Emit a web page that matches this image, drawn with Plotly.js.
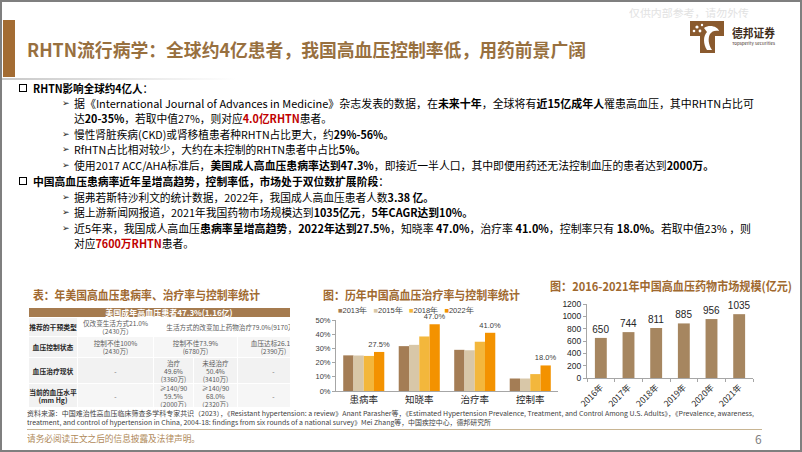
<!DOCTYPE html>
<html><head><meta charset="utf-8">
<script src="https://cdn.plot.ly/plotly-3.0.1.min.js"></script>
<style>
html,body{margin:0;padding:0;background:#fff;}
#slide{position:relative;width:802px;height:452px;overflow:hidden;background:#fff;font-family:'Noto Sans CJK SC','Noto Sans',sans-serif;color:#000;}
.frame{position:absolute;left:0;top:0;width:798px;height:448px;border:2px solid #7f7f7f;}
.t{position:absolute;white-space:nowrap;line-height:14px;height:14px;transform-origin:0 50%;}
.body{font-size:11px;}
.t b{font-weight:700;}
.r{color:#c00000;}
.box{position:absolute;width:6px;height:6px;border:1.4px solid #000;}
.arr{position:absolute;font-family:'DejaVu Sans';font-size:9px;line-height:14px;color:#222;}
.ct{font-size:12px;font-weight:700;color:#a0692f;}
#tbl{position:absolute;left:28px;top:307px;width:262px;height:100px;overflow:hidden;}
#tbl table{border-collapse:collapse;table-layout:fixed;width:281px;font-size:6.6px;line-height:8px;color:#5a5a5a;}
#tbl td{border:1px solid #fff;text-align:center;padding:0;overflow:hidden;white-space:nowrap;}
#tbl td.lab{font-weight:700;color:#262626;background:#f2f2f2;font-size:6.8px;}
#tbl td.hd{background:#a57b4f;color:#fff;font-weight:700;font-size:8px;}
</style></head>
<body>
<div id="slide">
  <div class="frame"></div>
  <div style="position:absolute;left:3px;top:20px;width:12px;height:57px;background:#a36c33;"></div>
  <div style="position:absolute;left:2px;top:78px;width:235px;height:2px;background:linear-gradient(to right,#c8c8c8,#ffffff);"></div>
  <div class="t" data-w="559" style="left:27px;top:38px;height:22px;line-height:22px;font-size:18px;font-weight:700;color:#98703f;">RHTN流行病学：全球约4亿患者，我国高血压控制率低，用药前景广阔</div>
  <div class="t" data-w="120" style="left:629px;top:6px;font-size:10px;color:#e2e2e2;">仅供内部参考，请勿外传</div>
  <svg style="position:absolute;left:688px;top:19px;" width="38" height="36" viewBox="0 0 38 36">
    <path d="M2 2 H36 V17 H27 V34 H12 V17 H2 Z" fill="#8a5a2e"/>
    <circle cx="9" cy="8" r="1.6" fill="#fff"/><circle cx="6" cy="12" r="1.3" fill="#fff"/>
    <circle cx="14" cy="6" r="1.2" fill="#fff"/><circle cx="12" cy="12" r="1.4" fill="#fff"/>
    <path d="M16 9 C22 5 30 8 31 12 C27 11 24 12 22 15 C20 19 20 25 24 31 L19 31 C15 25 15 17 19 13 Z" fill="#fff"/>
  </svg>
  <div class="t" data-w="43" style="left:732px;top:26px;height:13px;line-height:13px;font-size:12px;font-weight:700;color:#3d2b1a;">德邦证券</div>
  <div class="t" data-w="43" style="left:732px;top:40px;height:6px;line-height:6px;font-size:4px;color:#3d2b1a;">Topsperity Securities</div>

  <div class="box" style="left:19px;top:84px;"></div>
  <div class="t body" data-w="120" style="left:33px;top:81px;"><b>RHTN影响全球约4亿人</b>：</div>
  <div class="arr" style="left:62px;top:96px;">➢</div>
  <div class="t body" data-w="680" style="left:74px;top:96px;">据《International Journal of Advances in Medicine》杂志发表的数据，在<b>未来十年</b>，全球将有<b>近15亿成年人</b>罹患高血压，其中RHTN占比可</div>
  <div class="t body" data-w="258" style="left:74px;top:111px;">达<b>20-35%</b>，若取中值27%，则对应<b class="r">4.0亿RHTN</b>患者。</div>
  <div class="arr" style="left:62px;top:127px;">➢</div>
  <div class="t body" data-w="320" style="left:74px;top:127px;">慢性肾脏疾病(CKD)或肾移植患者种RHTN占比更大，约<b>29%-56%。</b></div>
  <div class="arr" style="left:62px;top:142px;">➢</div>
  <div class="t body" data-w="292" style="left:74px;top:142px;">RfHTN占比相对较少，大约在未控制的RHTN患者中占比<b>5%。</b></div>
  <div class="arr" style="left:62px;top:158px;">➢</div>
  <div class="t body" data-w="640" style="left:74px;top:158px;">使用2017 ACC/AHA标准后，<b>美国成人高血压患病率达到47.3%</b>，即接近一半人口，其中即便用药还无法控制血压的患者达到<b>2000万。</b></div>
  <div class="box" style="left:19px;top:177px;"></div>
  <div class="t body" data-w="356" style="left:33px;top:174px;"><b>中国高血压患病率近年呈增高趋势，控制率低，市场处于双位数扩展阶段</b>：</div>
  <div class="arr" style="left:62px;top:190px;">➢</div>
  <div class="t body" data-w="360" style="left:74px;top:190px;">据弗若斯特沙利文的统计数据，2022年，我国成人高血压患者人数<b>3.38 亿。</b></div>
  <div class="arr" style="left:62px;top:205px;">➢</div>
  <div class="t body" data-w="399" style="left:74px;top:205px;">据上游新闻网报道，2021年我国药物市场规模达到<b>1035亿元</b>，<b>5年CAGR达到10%。</b></div>
  <div class="arr" style="left:62px;top:221px;">➢</div>
  <div class="t body" data-w="677" style="left:74px;top:221px;">近5年来，我国成人高血压<b>患病率呈增高趋势</b>，<b>2022年达到27.5%</b>，知晓率 <b>47.0%</b>，治疗率 <b>41.0%</b>，控制率只有 <b>18.0%。</b>若取中值23% ，则</div>
  <div class="t body" data-w="120" style="left:74px;top:236px;">对应<b class="r">7600万RHTN</b>患者。</div>

  <div class="t ct" data-w="227" style="left:33px;top:288px;">表：年美国高血压患病率、治疗率与控制率统计</div>
  <div class="t ct" data-w="197" style="left:323px;top:288px;">图：历年中国高血压治疗率与控制率统计</div>
  <div class="t ct" data-w="242" style="left:550px;top:279px;">图：2016-2021年中国高血压药物市场规模(亿元)</div>

  <div id="tbl"></div>
  <div id="rate" style="position:absolute;left:300px;top:300px;width:262px;height:114px;"></div>
  <div id="market" style="position:absolute;left:545px;top:295px;width:220px;height:114px;"></div>

  <div class="t" data-w="727" style="left:27px;top:409px;height:8px;line-height:8px;font-size:6.5px;color:#404040;">资料来源：中国难治性高血压临床筛查多学科专家共识（2023），《Resistant hypertension: a review》Anant Parasher等，《Estimated Hypertension Prevalence, Treatment, and Control Among U.S. Adults》，《Prevalence, awareness,</div>
  <div class="t" data-w="464" style="left:27px;top:418px;height:8px;line-height:8px;font-size:6.5px;color:#404040;">treatment, and control of hypertension in China, 2004-18: findings from six rounds of a national survey》Mei Zhang等，中国疾控中心，德邦研究所</div>
  <div style="position:absolute;left:27px;top:429px;width:735px;height:1px;background:#c8b593;"></div>
  <div class="t" data-w="173" style="left:27px;top:432px;font-size:9px;color:#b08a5a;">请务必阅读正文之后的信息披露及法律声明。</div>
  <div class="t" style="left:755px;top:432px;font-size:12px;color:#7f7f7f;">6</div>
</div>

<script>
const tableHeader = "美国成年高血压患者47.3%(1.16亿)";
const tableRowLabels = ["推荐的干预类型", "血压控制状态", "血压治疗现状", "当前的血压水平<br>(mm Hg)"];
const tableRow1 = [["仅改变生活方式21.0%<br>（2430万）", 1], ["生活方式的改变加上药物治疗79.0%(9170万)", 3]];
const tableRow2 = [["控制不佳100%<br>(2430万)", 1], ["控制不佳73.9%<br>(6780万)", 2], ["血压达标26.1%<br>(2390万)", 1]];
const tableRow3 = [["-", 1], ["治疗<br>49.6%<br>(3360万)", 1], ["未经治疗<br>50.4%<br>(3410万)", 1], ["-", 1]];
const tableRow4 = [["-", 1], ["≥140/90<br>59.5%<br>（2000万）", 1], ["≥140/90<br>68.0%<br>（2320万）", 1], ["-", 1]];

const rateCategories = ["患病率", "知晓率", "治疗率", "控制率"];
const rateYears = ["2013年", "2015年", "2018年", "2022年"];
const rate2013 = [25.1, 31.6, 29.0, 8.8];
const rate2015 = [25.0, 32.5, 28.7, 8.8];
const rate2018 = [24.7, 38.4, 34.7, 11.9];
const rate2022 = [27.5, 47.0, 41.0, 18.0];
const rate2022Labels = ["27.5%", "47.0%", "41.0%", "18.0%"];

const marketYears = ["2016年", "2017年", "2018年", "2019年", "2020年", "2021年"];
const marketValues = [650, 744, 811, 885, 956, 1035];

(function(){
  const colW = [49, 76, 40, 44, 72];
  const rowH = [10, 19, 21, 26, 22];
  const rows = [tableRow1, tableRow2, tableRow3, tableRow4];
  const bgs = ['#ffffff', '#f6f6f6', '#f2f2f2', '#f6f6f6'];
  let h = '<table><colgroup>' + colW.map(w => `<col style="width:${w}px">`).join('') + '</colgroup>';
  h += `<tr style="height:${rowH[0]}px"><td class="hd" colspan="5">${tableHeader}</td></tr>`;
  rows.forEach((r, i) => {
    h += `<tr style="height:${rowH[i+1]}px"><td class="lab">${tableRowLabels[i]}</td>`;
    r.forEach(c => { h += `<td colspan="${c[1]}" style="background:${bgs[i]}">${c[0]}</td>`; });
    h += '</tr>';
  });
  h += '</table>';
  document.getElementById('tbl').innerHTML = h;
})();

document.querySelectorAll('[data-w]').forEach(el => {
  const w = el.getBoundingClientRect().width;
  if (w > 0) el.style.transform = `scaleX(${parseFloat(el.dataset.w) / w})`;
});

const rateColors = ['#a47d55', '#d8c7a8', '#f3b73c', '#f39200'];
const rateSeries = [rate2013, rate2015, rate2018, rate2022];
const rateTraces = rateSeries.map((s, i) => ({
  type: 'bar', x: rateCategories, y: s, name: rateYears[i],
  marker: {color: rateColors[i]},
  text: i === 3 ? rate2022Labels : undefined,
  textposition: i === 3 ? 'outside' : 'none',
  constraintext: 'none',
  textfont: {size: 7.5, color: '#404040', family: 'Arial, Liberation Sans'},
  cliponaxis: false, hoverinfo: 'none'
}));
const legendText = rateYears.map((y, i) => `<span style="color:${rateColors[i]}">■</span>${y}`).join('\u00a0\u00a0\u00a0');
Plotly.newPlot('rate', rateTraces, {
  width: 262, height: 114,
  margin: {l: 36, r: 4, t: 20, b: 23, pad: 0, autoexpand: false},
  barmode: 'group', bargap: 0.26, bargroupgap: 0,
  showlegend: false,
  paper_bgcolor: 'rgba(0,0,0,0)', plot_bgcolor: 'rgba(0,0,0,0)',
  font: {family: 'Noto Sans CJK SC', color: '#404040'},
  xaxis: {automargin: false, showline: true, linecolor: '#a6a6a6', linewidth: 1, tickfont: {size: 9.5, color: '#262626'}, ticks: '', fixedrange: true},
  yaxis: {automargin: false, range: [0, 50], dtick: 10, ticksuffix: '%', showgrid: false, zeroline: false, showline: true, linecolor: '#a6a6a6',
          ticks: 'outside', ticklen: 3, tickcolor: '#a6a6a6', tickfont: {size: 7.5, color: '#404040', family: 'Arial, Liberation Sans'}},
  annotations: [{xref: 'paper', yref: 'paper', x: 0.0, y: 1.13, xanchor: 'left', yanchor: 'middle', showarrow: false,
                 text: legendText, font: {size: 7.5, color: '#404040', family: 'Arial, Liberation Sans'}}]
}, {staticPlot: true, displayModeBar: false});

Plotly.newPlot('market', [{
  type: 'bar', x: marketYears, y: marketValues,
  marker: {color: '#a68660'},
  text: marketValues.map(String), textposition: 'outside', constraintext: 'none',
  textfont: {size: 10, color: '#262626', family: 'Arial, Liberation Sans'},
  cliponaxis: false, hoverinfo: 'none'
}], {
  width: 220, height: 114,
  margin: {l: 42, r: 12, t: 9, b: 31, pad: 0, autoexpand: false},
  bargap: 0.57, showlegend: false,
  paper_bgcolor: 'rgba(0,0,0,0)', plot_bgcolor: 'rgba(0,0,0,0)',
  font: {family: 'Noto Sans CJK SC', color: '#262626'},
  xaxis: {automargin: false, showline: true, linecolor: '#a6a6a6', tickangle: -45, tickfont: {size: 8.5, color: '#262626'},
          ticks: 'outside', ticklen: 3, tickcolor: '#a6a6a6', tickson: 'boundaries'},
  yaxis: {automargin: false, range: [0, 1200], dtick: 200, showgrid: false, zeroline: false, showline: true, linecolor: '#a6a6a6',
          ticks: 'outside', ticklen: 3, tickcolor: '#a6a6a6', tickfont: {size: 8.5, color: '#262626', family: 'Arial, Liberation Sans'}}
}, {staticPlot: true, displayModeBar: false});
</script>
</body></html>
